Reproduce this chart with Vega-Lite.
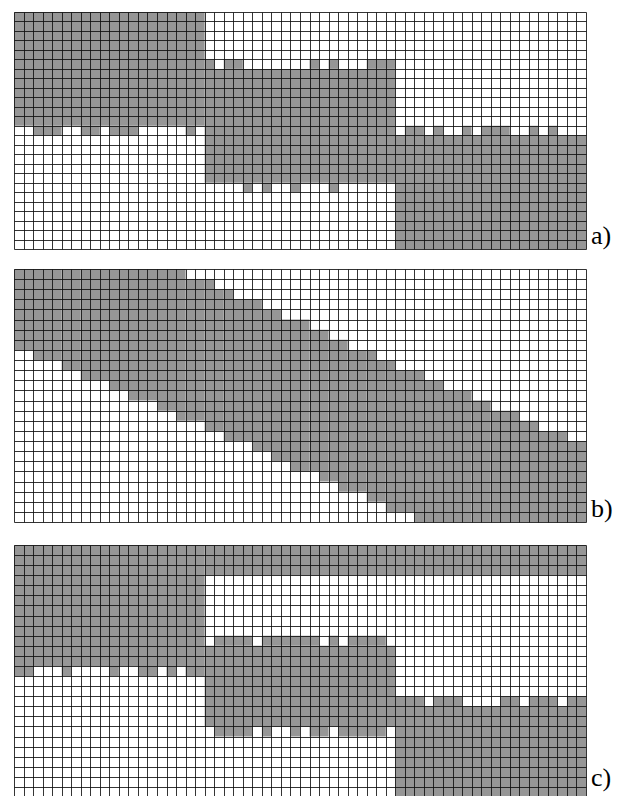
{
  "$schema": "https://vega.github.io/schema/vega-lite/v6.json",
  "padding": {"left": 14, "top": 12, "right": 5, "bottom": 0},
  "background": "white",
  "bounds": "flush",
  "spacing": 20,
  "config": {
    "view": {"stroke": null},
    "axis": {"grid": true, "labels": false, "ticks": false, "domain": false, "title": null, "gridColor": "#111", "gridWidth": 1, "gridOpacity": 0.85},
    "title": {"orient": "right", "angle": 0, "anchor": "end", "align": "left", "baseline": "alphabetic", "font": "Liberation Serif", "fontSize": 26, "fontWeight": "normal", "color": "#000", "offset": 5, "dy": -26}
  },
  "datasets": {
    "a": [
      {"x": 0, "x2": 20, "y": 0, "y2": 12},
      {"x": 2, "x2": 5, "y": 12, "y2": 13},
      {"x": 7, "x2": 9, "y": 12, "y2": 13},
      {"x": 10, "x2": 13, "y": 12, "y2": 13},
      {"x": 18, "x2": 19, "y": 12, "y2": 13},
      {"x": 20, "x2": 40, "y": 6, "y2": 18},
      {"x": 20, "x2": 21, "y": 5, "y2": 6},
      {"x": 22, "x2": 24, "y": 5, "y2": 6},
      {"x": 31, "x2": 32, "y": 5, "y2": 6},
      {"x": 33, "x2": 34, "y": 5, "y2": 6},
      {"x": 37, "x2": 40, "y": 5, "y2": 6},
      {"x": 24, "x2": 25, "y": 18, "y2": 19},
      {"x": 26, "x2": 27, "y": 18, "y2": 19},
      {"x": 29, "x2": 30, "y": 18, "y2": 19},
      {"x": 33, "x2": 34, "y": 18, "y2": 19},
      {"x": 40, "x2": 60, "y": 13, "y2": 25},
      {"x": 41, "x2": 43, "y": 12, "y2": 13},
      {"x": 44, "x2": 45, "y": 12, "y2": 13},
      {"x": 47, "x2": 48, "y": 12, "y2": 13},
      {"x": 49, "x2": 52, "y": 12, "y2": 13},
      {"x": 54, "x2": 55, "y": 12, "y2": 13},
      {"x": 56, "x2": 57, "y": 12, "y2": 13}
    ],
    "b": [
      {"x": 0, "x2": 2, "y": 0, "y2": 8},
      {"x": 2, "x2": 5, "y": 0, "y2": 9},
      {"x": 5, "x2": 7, "y": 0, "y2": 10},
      {"x": 7, "x2": 10, "y": 0, "y2": 11},
      {"x": 10, "x2": 12, "y": 0, "y2": 12},
      {"x": 12, "x2": 15, "y": 0, "y2": 13},
      {"x": 15, "x2": 17, "y": 0, "y2": 14},
      {"x": 17, "x2": 18, "y": 0, "y2": 15},
      {"x": 18, "x2": 20, "y": 1, "y2": 15},
      {"x": 20, "x2": 21, "y": 1, "y2": 16},
      {"x": 21, "x2": 22, "y": 2, "y2": 16},
      {"x": 22, "x2": 23, "y": 2, "y2": 17},
      {"x": 23, "x2": 25, "y": 3, "y2": 17},
      {"x": 25, "x2": 26, "y": 3, "y2": 18},
      {"x": 26, "x2": 27, "y": 4, "y2": 18},
      {"x": 27, "x2": 28, "y": 4, "y2": 19},
      {"x": 28, "x2": 29, "y": 5, "y2": 19},
      {"x": 29, "x2": 31, "y": 5, "y2": 20},
      {"x": 31, "x2": 32, "y": 6, "y2": 20},
      {"x": 32, "x2": 33, "y": 6, "y2": 21},
      {"x": 33, "x2": 34, "y": 7, "y2": 21},
      {"x": 34, "x2": 35, "y": 7, "y2": 22},
      {"x": 35, "x2": 37, "y": 8, "y2": 22},
      {"x": 37, "x2": 38, "y": 8, "y2": 23},
      {"x": 38, "x2": 39, "y": 9, "y2": 23},
      {"x": 39, "x2": 40, "y": 9, "y2": 24},
      {"x": 40, "x2": 42, "y": 10, "y2": 24},
      {"x": 42, "x2": 43, "y": 10, "y2": 25},
      {"x": 43, "x2": 45, "y": 11, "y2": 25},
      {"x": 45, "x2": 48, "y": 12, "y2": 25},
      {"x": 48, "x2": 50, "y": 13, "y2": 25},
      {"x": 50, "x2": 53, "y": 14, "y2": 25},
      {"x": 53, "x2": 55, "y": 15, "y2": 25},
      {"x": 55, "x2": 58, "y": 16, "y2": 25},
      {"x": 58, "x2": 60, "y": 17, "y2": 25}
    ],
    "c": [
      {"x": 0, "x2": 20, "y": 0, "y2": 12},
      {"x": 0, "x2": 2, "y": 12, "y2": 13},
      {"x": 5, "x2": 6, "y": 12, "y2": 13},
      {"x": 10, "x2": 11, "y": 12, "y2": 13},
      {"x": 13, "x2": 15, "y": 12, "y2": 13},
      {"x": 16, "x2": 17, "y": 12, "y2": 13},
      {"x": 18, "x2": 20, "y": 12, "y2": 13},
      {"x": 20, "x2": 60, "y": 0, "y2": 3},
      {"x": 20, "x2": 40, "y": 10, "y2": 18},
      {"x": 21, "x2": 25, "y": 9, "y2": 10},
      {"x": 26, "x2": 32, "y": 9, "y2": 10},
      {"x": 33, "x2": 34, "y": 9, "y2": 10},
      {"x": 35, "x2": 39, "y": 9, "y2": 10},
      {"x": 21, "x2": 25, "y": 18, "y2": 19},
      {"x": 26, "x2": 27, "y": 18, "y2": 19},
      {"x": 29, "x2": 30, "y": 18, "y2": 19},
      {"x": 31, "x2": 33, "y": 18, "y2": 19},
      {"x": 34, "x2": 39, "y": 18, "y2": 19},
      {"x": 40, "x2": 60, "y": 16, "y2": 25},
      {"x": 40, "x2": 43, "y": 15, "y2": 16},
      {"x": 44, "x2": 47, "y": 15, "y2": 16},
      {"x": 51, "x2": 53, "y": 15, "y2": 16},
      {"x": 54, "x2": 57, "y": 15, "y2": 16},
      {"x": 58, "x2": 60, "y": 15, "y2": 16}
    ]
  },
  "vconcat": [
    {
      "width": 572, "height": 237,
      "data": {"name": "a"},
      "title": {"text": "a)"},
      "mark": {"type": "rect", "fill": "#969696", "strokeWidth": 0},
      "encoding": {
        "x": {"field": "x", "type": "quantitative", "scale": {"domain": [0, 60], "nice": false, "zero": false},
          "axis": {"zindex": 1, "values": [0,1,2,3,4,5,6,7,8,9,10,11,12,13,14,15,16,17,18,19,20,21,22,23,24,25,26,27,28,29,30,31,32,33,34,35,36,37,38,39,40,41,42,43,44,45,46,47,48,49,50,51,52,53,54,55,56,57,58,59,60]}},
        "x2": {"field": "x2"},
        "y": {"field": "y", "type": "quantitative", "scale": {"domain": [0, 25], "nice": false, "zero": false, "reverse": true},
          "axis": {"zindex": 1, "values": [0,1,2,3,4,5,6,7,8,9,10,11,12,13,14,15,16,17,18,19,20,21,22,23,24,25]}},
        "y2": {"field": "y2"}
      }
    },
    {
      "bounds": "flush",
      "spacing": 23,
      "vconcat": [
        {
          "width": 572, "height": 253,
          "data": {"name": "b"},
          "title": {"text": "b)"},
          "mark": {"type": "rect", "fill": "#969696", "strokeWidth": 0},
          "encoding": {
            "x": {"field": "x", "type": "quantitative", "scale": {"domain": [0, 60], "nice": false, "zero": false},
              "axis": {"zindex": 1, "values": [0,1,2,3,4,5,6,7,8,9,10,11,12,13,14,15,16,17,18,19,20,21,22,23,24,25,26,27,28,29,30,31,32,33,34,35,36,37,38,39,40,41,42,43,44,45,46,47,48,49,50,51,52,53,54,55,56,57,58,59,60]}},
            "x2": {"field": "x2"},
            "y": {"field": "y", "type": "quantitative", "scale": {"domain": [0, 25], "nice": false, "zero": false, "reverse": true},
              "axis": {"zindex": 1, "values": [0,1,2,3,4,5,6,7,8,9,10,11,12,13,14,15,16,17,18,19,20,21,22,23,24,25]}},
            "y2": {"field": "y2"}
          }
        },
        {
          "width": 572, "height": 252,
          "data": {"name": "c"},
          "title": {"text": "c)", "dy": -32},
          "mark": {"type": "rect", "fill": "#969696", "strokeWidth": 0},
          "encoding": {
            "x": {"field": "x", "type": "quantitative", "scale": {"domain": [0, 60], "nice": false, "zero": false},
              "axis": {"zindex": 1, "values": [0,1,2,3,4,5,6,7,8,9,10,11,12,13,14,15,16,17,18,19,20,21,22,23,24,25,26,27,28,29,30,31,32,33,34,35,36,37,38,39,40,41,42,43,44,45,46,47,48,49,50,51,52,53,54,55,56,57,58,59,60]}},
            "x2": {"field": "x2"},
            "y": {"field": "y", "type": "quantitative", "scale": {"domain": [0, 25], "nice": false, "zero": false, "reverse": true},
              "axis": {"zindex": 1, "values": [0,1,2,3,4,5,6,7,8,9,10,11,12,13,14,15,16,17,18,19,20,21,22,23,24,25]}},
            "y2": {"field": "y2"}
          }
        }
      ]
    }
  ]
}
